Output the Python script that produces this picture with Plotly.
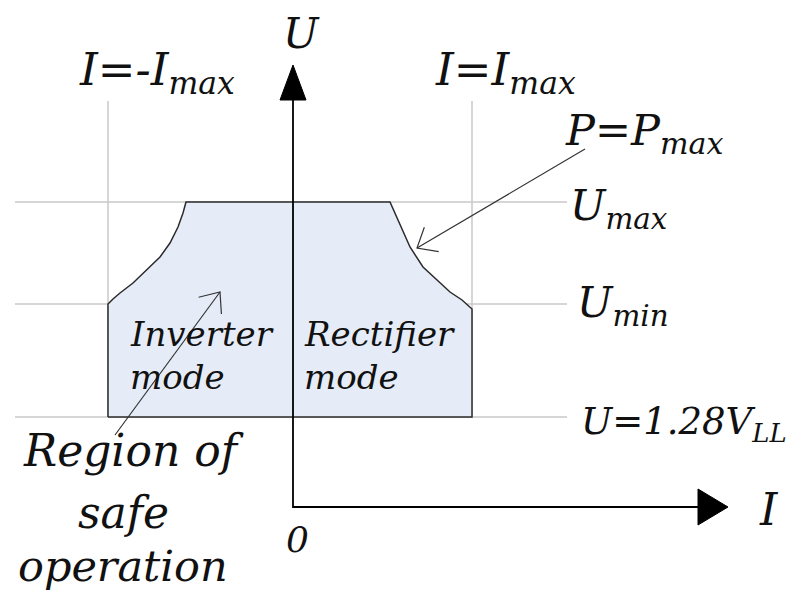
import numpy as np
import plotly.graph_objects as go

# ---- Diagram values (arbitrary units, I horizontal, U vertical) ----
I_MAX_NEG = -1.85
I_MAX_POS = 1.79
U_LL = 0.90      # U = 1.28 V_LL
U_MIN = 2.03
U_MAX = 3.05

# Left boundary (inverter side), from U_min up to U_max
left_I = [-1.85, -1.80, -1.73, -1.60, -1.46, -1.33, -1.23, -1.15, -1.10, -1.07]
left_U = [2.03, 2.08, 2.14, 2.24, 2.37, 2.50, 2.64, 2.80, 2.94, 3.05]
# Right boundary, P = P_max curve, from U_max downwards
right_I = [0.97, 1.02, 1.09, 1.17, 1.30, 1.44, 1.57, 1.69, 1.78, 1.79]
right_U = [3.05, 2.94, 2.77, 2.60, 2.40, 2.27, 2.15, 2.07, 1.99, 1.98]

# Guide line extents
GRID_I_LEFT = -2.78
GRID_I_RIGHT = 2.74
GRID_U_TOP = 4.06

# Axes extents
U_AXIS_END = 4.07
U_ARROW_TIP = 4.42
I_AXIS_END = 4.05
I_ARROW_TIP = 4.35

# Annotation arrows: (start, tip)
pmax_arrow = [(2.92, 3.58), (1.24, 2.59)]
region_arrow = [(-1.78, 0.72), (-0.73, 2.15)]

FONT = "DejaVu Serif"
TXT = "#111111"
GRID = "#c8c8c8"
EDGE = "#2a2a2a"
FILL = "#e6ecf7"

fig = go.Figure()

# gray guide lines
for u in [U_MAX, U_MIN, U_LL]:
    fig.add_trace(go.Scatter(x=[GRID_I_LEFT, GRID_I_RIGHT], y=[u, u], mode="lines",
                             line=dict(color=GRID, width=1.5), hoverinfo="skip"))
for i in [I_MAX_NEG, I_MAX_POS]:
    fig.add_trace(go.Scatter(x=[i, i], y=[U_LL, GRID_U_TOP], mode="lines",
                             line=dict(color=GRID, width=1.5), hoverinfo="skip"))

# safe operating region
poly_I = [I_MAX_NEG] + left_I + right_I + [I_MAX_POS, I_MAX_NEG]
poly_U = [U_LL] + left_U + right_U + [U_LL, U_LL]
fig.add_trace(go.Scatter(x=poly_I, y=poly_U, mode="lines", fill="toself",
                         fillcolor=FILL, line=dict(color=EDGE, width=1.5),
                         hoverinfo="skip"))

# axes
fig.add_trace(go.Scatter(x=[0, 0, I_AXIS_END], y=[U_AXIS_END, 0, 0], mode="lines",
                         line=dict(color="black", width=1.8), hoverinfo="skip"))
fig.add_trace(go.Scatter(x=[-0.13, 0.13, 0, -0.13], y=[U_AXIS_END, U_AXIS_END, U_ARROW_TIP, U_AXIS_END],
                         mode="lines", fill="toself", fillcolor="black",
                         line=dict(color="black", width=1), hoverinfo="skip"))
fig.add_trace(go.Scatter(x=[I_AXIS_END, I_AXIS_END, I_ARROW_TIP, I_AXIS_END], y=[-0.18, 0.18, 0, -0.18],
                         mode="lines", fill="toself", fillcolor="black",
                         line=dict(color="black", width=1), hoverinfo="skip"))


def open_arrow(start, tip, wing=0.22, half_angle=40):
    (x0, y0), (x1, y1) = start, tip
    d = np.array([x0 - x1, y0 - y1])
    d = d / np.linalg.norm(d)
    a = np.radians(half_angle)
    rot = lambda v, t: np.array([v[0] * np.cos(t) - v[1] * np.sin(t), v[0] * np.sin(t) + v[1] * np.cos(t)])
    w1 = np.array([x1, y1]) + wing * rot(d, a)
    w2 = np.array([x1, y1]) + wing * rot(d, -a)
    xs = [x0, x1, None, w1[0], x1, w2[0]]
    ys = [y0, y1, None, w1[1], y1, w2[1]]
    fig.add_trace(go.Scatter(x=xs, y=ys, mode="lines", line=dict(color="#333333", width=1.2),
                             hoverinfo="skip"))


open_arrow(*pmax_arrow)
open_arrow(*region_arrow)

# text labels
labels = [
    ("U", 0.08, 4.74, "center", 42),
    ("I=-I<sub>max</sub>", -2.16, 4.355, "left", 45),
    ("I=I<sub>max</sub>", 1.40, 4.355, "left", 45),
    ("P=P<sub>max</sub>", 2.70, 3.74, "left", 43),
    ("U<sub>max</sub>", 2.75, 2.985, "left", 42),
    ("U<sub>min</sub>", 2.82, 2.02, "left", 42),
    ("U=1.28V<sub>LL</sub>", 2.86, 0.83, "left", 37),
    ("I", 4.64, -0.025, "left", 44),
    ("0", 0.045, -0.325, "center", 36),
    ("Inverter", -1.65, 1.73, "left", 34),
    ("mode", -1.65, 1.30, "left", 34),
    ("Rectifier", 0.09, 1.73, "left", 34),
    ("mode", 0.09, 1.30, "left", 34),
    ("Region of", -1.60, 0.57, "center", 44),
    ("safe", -1.695, -0.05, "center", 44),
    ("operation", -1.705, -0.59, "center", 43),
]
for text, x, y, xa, size in labels:
    fig.add_annotation(x=x, y=y, text=text, showarrow=False,
                       xanchor=xa, yanchor="middle",
                       font=dict(family=FONT, size=size, color=TXT, style="italic"))

# The page body adds an 8 px margin, so the figure is 8 px smaller and the
# ranges start 8 px (0.08 units) further in, keeping 100 px per unit.
fig.update_layout(
    width=793, height=582,
    margin=dict(l=0, r=0, t=0, b=0),
    paper_bgcolor="white", plot_bgcolor="white",
    showlegend=False,
    xaxis=dict(range=[-2.85, 5.08], visible=False, fixedrange=True),
    yaxis=dict(range=[-0.83, 4.99], visible=False, fixedrange=True),
)

fig.write_html("out.html")
